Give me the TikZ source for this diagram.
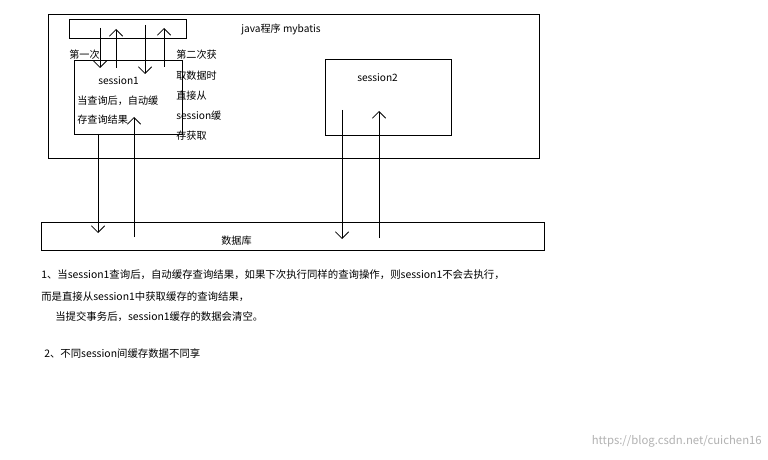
\documentclass[tikz,border=0pt]{standalone}
\usepackage{fontspec}
\setmainfont{Noto Sans CJK SC}
\usetikzlibrary{arrows.meta}
\begin{document}
\begin{tikzpicture}[x=0.75pt,y=-0.75pt,
  box/.style={draw,line width=0.6pt},
  arr/.style={line width=0.6pt,-{Straight Barb[length=5pt,width=10pt]}},
  lab/.style={font=\fontsize{7.6pt}{9pt}\selectfont,inner sep=0pt,anchor=west},
  txt/.style={font=\fontsize{7.8pt}{9pt}\selectfont,inner sep=0pt,anchor=west}]
\useasboundingbox (0,0) rectangle (768,460);
\fill[white] (0,0) rectangle (768,460);
\draw[box] (48,14) rectangle (539,158);
\node[box,minimum width=117*0.75pt,minimum height=19*0.75pt,anchor=north west,inner sep=0pt] (top) at (69,19) {};
\draw[box] (74,60) rectangle (182,134);
\node[box,minimum width=126*0.75pt,minimum height=76*0.75pt,anchor=north west,inner sep=0pt] (s2) at (325,59) {};
\node[box,minimum width=503*0.75pt,minimum height=28*0.75pt,anchor=north west,inner sep=0pt] (db) at (41,222) {};
\node[lab] at (241,29) {java程序 mybatis};
\node[lab] at (69,55) {第一次};
\node[lab] at (98,81) {session1};
\node[lab] at (77,101) {当查询后，自动缓};
\node[lab] at (77,120) {存查询结果};
\node[lab] at (176,55) {第二次获};
\node[lab] at (176,76) {取数据时};
\node[lab] at (176,96) {直接从};
\node[lab] at (176,116) {session缓};
\node[lab] at (176,136) {存获取};
\node[lab] at (357,78) {session2};
\node[lab] at (221,241) {数据库};
\coordinate (a1) at (100,28); \coordinate (a2) at (100,68);
\draw[arr] (a1) -- (a2);
\coordinate (b1) at (116,68); \coordinate (b2) at (116,29);
\draw[arr] (b1) -- (b2);
\coordinate (c1) at (145,25); \coordinate (c2) at (145,74);
\draw[arr] (c1) -- (c2);
\coordinate (d1) at (164,67); \coordinate (d2) at (164,28);
\draw[arr] (d1) -- (d2);
\coordinate (e1) at (98,134); \coordinate (e2) at (98,233);
\draw[arr] (e1) -- (e2);
\coordinate (f1) at (134,237); \coordinate (f2) at (134,117);
\draw[arr] (f1) -- (f2);
\coordinate (g1) at (342,110); \coordinate (g2) at (342,239);
\draw[arr] (g1) -- (g2);
\coordinate (h1) at (379,238); \coordinate (h2) at (379,111);
\draw[arr] (h1) -- (h2);
\node[txt] at (41,275) {1、当session1查询后，自动缓存查询结果，如果下次执行同样的查询操作，则session1不会去执行，};
\node[txt] at (41,297) {而是直接从session1中获取缓存的查询结果，};
\node[txt] at (55,317) {当提交事务后，session1缓存的数据会清空。};
\node[txt] at (44,354) {2、不同session间缓存数据不同享};
\node[font=\fontsize{8.5pt}{10pt}\selectfont,text=gray!60,anchor=east,inner sep=0pt] at (762,441) {https://blog.csdn.net/cuichen16};
\end{tikzpicture}
\end{document}
